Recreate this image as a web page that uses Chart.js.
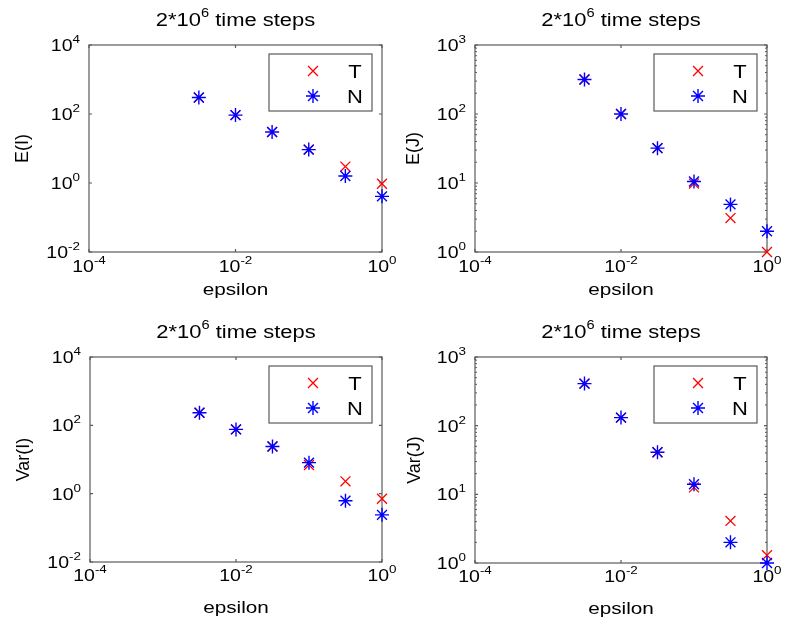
<!DOCTYPE html>
<html>
<head>
<meta charset="utf-8">
<script src="https://cdn.jsdelivr.net/npm/chart.js@4.4.1/dist/chart.umd.min.js"></script>
<style>
  html, body { margin: 0; padding: 0; background: #ffffff; }
  #wrap { position: relative; width: 788px; height: 633px; background: #ffffff; }
  canvas { position: absolute; }
</style>
</head>
<body>
<div id="wrap">
  <canvas id="c1" width="420" height="316" style="left:0px;top:0px"></canvas>
  <canvas id="c3" width="420" height="317" style="left:0px;top:316px"></canvas>
  <canvas id="c2" width="394" height="316" style="left:394px;top:0px"></canvas>
  <canvas id="c4" width="394" height="317" style="left:394px;top:316px"></canvas>
</div>
<script>
// ---- data ----
const epsilon = [0.00316, 0.01, 0.0316, 0.1, 0.316, 1];

const EI_T = [300, 93, 30, 9.3, 3.0, 0.95];
const EI_N = [300, 93, 30, 9.3, 1.6, 0.41];

const EJ_T = [316, 100, 32, 9.8, 3.1, 1.0];
const EJ_N = [316, 100, 32, 10.5, 4.9, 2.0];

const VI_T = [234, 76, 24, 6.9, 2.3, 0.71];
const VI_N = [234, 76, 24, 8.1, 0.62, 0.24];

const VJ_T = [410, 131, 41, 12.6, 4.1, 1.3];
const VJ_N = [410, 131, 41, 14, 2.0, 1.0];

// ---- ticks and labels ----
const xTicks = [1e-4, 1e-2, 1];
const xTickExps = ['-4', '-2', '0'];
const yTicksI = [1e-2, 1, 1e2, 1e4];
const yTickExpsI = ['-2', '0', '2', '4'];
const yTicksJ = [1, 10, 100, 1000];
const yTickExpsJ = ['0', '1', '2', '3'];
const titleParts = ['2*10', '6', ' time steps'];
const xLabel = 'epsilon';
const seriesNames = ['T', 'N'];

const FONT = '"Liberation Sans", Arial, Helvetica, sans-serif';
const HS = 1.22; // horizontal stretch of the reference text
const BOX = '#5a5a5a';

function textW(ctx, s, size) {
  ctx.font = size + 'px ' + FONT;
  return ctx.measureText(s).width * HS;
}
function drawTxt(ctx, s, x, y, size, align) {
  ctx.save();
  ctx.translate(x, y);
  ctx.scale(HS, 1);
  ctx.font = size + 'px ' + FONT;
  ctx.textAlign = align || 'left';
  ctx.textBaseline = 'alphabetic';
  ctx.fillStyle = '#000';
  ctx.fillText(s, 0, 0);
  ctx.restore();
}
// draw "10^exp" ; align: 'center' or 'right'; y = baseline of base
function drawPow(ctx, exp, x, y, align) {
  const bs = 16, es = 11;
  const wb = textW(ctx, '10', bs), we = textW(ctx, exp, es);
  const tot = wb + we;
  let x0 = align === 'right' ? x - tot : x - tot / 2;
  drawTxt(ctx, '10', x0, y, bs, 'left');
  drawTxt(ctx, exp, x0 + wb, y - 8, es, 'left');
}

function matlabPlugin(cfg) {
  return {
    id: 'matlabAxes',
    beforeDatasetsDraw(chart) {
      const ctx = chart.ctx, a = chart.chartArea;
      const xs = chart.scales.x, ys = chart.scales.y;
      ctx.save();
      ctx.strokeStyle = BOX;
      ctx.lineWidth = 1.2;
      ctx.strokeRect(a.left, a.top, a.right - a.left, a.bottom - a.top);
      ctx.beginPath();
      cfg.xTicks.forEach(v => {
        const px = xs.getPixelForValue(v);
        ctx.moveTo(px, a.bottom); ctx.lineTo(px, a.bottom - 3);
        ctx.moveTo(px, a.top); ctx.lineTo(px, a.top + 3);
      });
      cfg.yTicks.forEach(v => {
        const py = ys.getPixelForValue(v);
        ctx.moveTo(a.left, py); ctx.lineTo(a.left + 3, py);
        ctx.moveTo(a.right, py); ctx.lineTo(a.right - 3, py);
      });
      ctx.stroke();
      if (cfg.minorY) {
        ctx.lineWidth = 1;
        ctx.beginPath();
        for (let d = 0; d < cfg.yTicks.length - 1; d++) {
          for (let m = 2; m <= 9; m++) {
            const py = ys.getPixelForValue(cfg.yTicks[d] * m);
            ctx.moveTo(a.left, py); ctx.lineTo(a.left + 2, py);
            ctx.moveTo(a.right, py); ctx.lineTo(a.right - 2, py);
          }
        }
        ctx.stroke();
      }
      ctx.restore();

      cfg.xTicks.forEach((v, i) => {
        drawPow(ctx, cfg.xExps[i], xs.getPixelForValue(v), a.bottom + cfg.xTickOff, 'center');
      });
      cfg.yTicks.forEach((v, i) => {
        drawPow(ctx, cfg.yExps[i], a.left - 9, ys.getPixelForValue(v) + 6, 'right');
      });
      const cx = (a.left + a.right) / 2;
      const w1 = textW(ctx, titleParts[0], 18), w2 = textW(ctx, titleParts[1], 12), w3 = textW(ctx, titleParts[2], 18);
      let tx = cx - (w1 + w2 + w3) / 2;
      const ty = a.top - 19;
      drawTxt(ctx, titleParts[0], tx, ty, 18, 'left');
      drawTxt(ctx, titleParts[1], tx + w1, ty - 9, 12, 'left');
      drawTxt(ctx, titleParts[2], tx + w1 + w2, ty, 18, 'left');
      drawTxt(ctx, xLabel, cx, a.bottom + cfg.xLabOff, 17, 'center');
      ctx.save();
      ctx.translate(cfg.yLabX, (a.top + a.bottom) / 2);
      ctx.rotate(-Math.PI / 2);
      ctx.font = '18px ' + FONT;
      ctx.textAlign = 'center';
      ctx.textBaseline = 'middle';
      ctx.fillStyle = '#000';
      ctx.fillText(cfg.yLabel, 0, 0);
      ctx.restore();
    },
    afterDraw(chart) {
      const ctx = chart.ctx, a = chart.chartArea;
      const bw = 103, bh = 57;
      const bx = a.right - 10 - bw, by = a.top + 9;
      ctx.save();
      ctx.fillStyle = '#fff';
      ctx.fillRect(bx, by, bw, bh);
      ctx.strokeStyle = BOX;
      ctx.lineWidth = 1.2;
      ctx.strokeRect(bx, by, bw, bh);
      ctx.restore();
      const rows = [by + 17, by + 42];
      const ds = chart.data.datasets;
      seriesNames.forEach((name, i) => {
        const d = ds.find(s => s.label === name);
        ctx.save();
        ctx.strokeStyle = d.pointBorderColor;
        ctx.lineWidth = d.pointBorderWidth;
        Chart.helpers.drawPoint(ctx, { pointStyle: d.pointStyle, radius: d.pointRadius, borderWidth: d.pointBorderWidth, rotation: 0 }, bx + 44, rows[i]);
        ctx.restore();
        drawTxt(ctx, name, bx + 86, rows[i] + 6.5, 18, 'center');
      });
    }
  };
}

function makeChart(id, T, N, yMin, yMax, yTicks, yExps, yLabel, pad, yLabX, xTickOff, xLabOff, minorY) {
  const pts = arr => epsilon.map((x, i) => ({ x: x, y: arr[i] }));
  return new Chart(document.getElementById(id), {
    type: 'scatter',
    data: {
      datasets: [
        { label: 'N', data: pts(N), pointStyle: 'star', pointRadius: 7, pointBorderColor: '#0000ff',
          pointBackgroundColor: 'rgba(0,0,0,0)', pointBorderWidth: 1.4, borderColor: '#0000ff',
          showLine: false, clip: false, order: 0 },
        { label: 'T', data: pts(T), pointStyle: 'crossRot', pointRadius: 7, pointBorderColor: '#ff0000',
          pointBackgroundColor: 'rgba(0,0,0,0)', pointBorderWidth: 1.3, borderColor: '#ff0000',
          showLine: false, clip: false, order: 1 }
      ]
    },
    options: {
      responsive: false,
      animation: false,
      events: [],
      layout: { padding: pad },
      plugins: { legend: { display: false }, tooltip: { enabled: false }, title: { display: false } },
      scales: {
        x: { type: 'logarithmic', min: 1e-4, max: 1, display: false },
        y: { type: 'logarithmic', min: yMin, max: yMax, display: false }
      }
    },
    plugins: [matlabPlugin({ xTicks: xTicks, xExps: xTickExps, yTicks: yTicks, yExps: yExps,
      yLabel: yLabel, yLabX: yLabX, xTickOff: xTickOff, xLabOff: xLabOff, minorY: minorY })]
  });
}

makeChart('c1', EI_T, EI_N, 1e-2, 1e4, yTicksI, yTickExpsI, 'E(I)',
  { left: 89, top: 45, right: 38, bottom: 64 }, 23, 20, 43, false);
makeChart('c3', VI_T, VI_N, 1e-2, 1e4, yTicksI, yTickExpsI, 'Var(I)',
  { left: 90, top: 41, right: 38, bottom: 71 }, 24, 19, 51, false);
makeChart('c2', EJ_T, EJ_N, 1, 1e3, yTicksJ, yTickExpsJ, 'E(J)',
  { left: 81, top: 45, right: 21, bottom: 64 }, 20, 20, 43, true);
makeChart('c4', VJ_T, VJ_N, 1, 1e3, yTicksJ, yTickExpsJ, 'Var(J)',
  { left: 81, top: 41, right: 21, bottom: 70 }, 21, 19, 51, true);
</script>
</body>
</html>
